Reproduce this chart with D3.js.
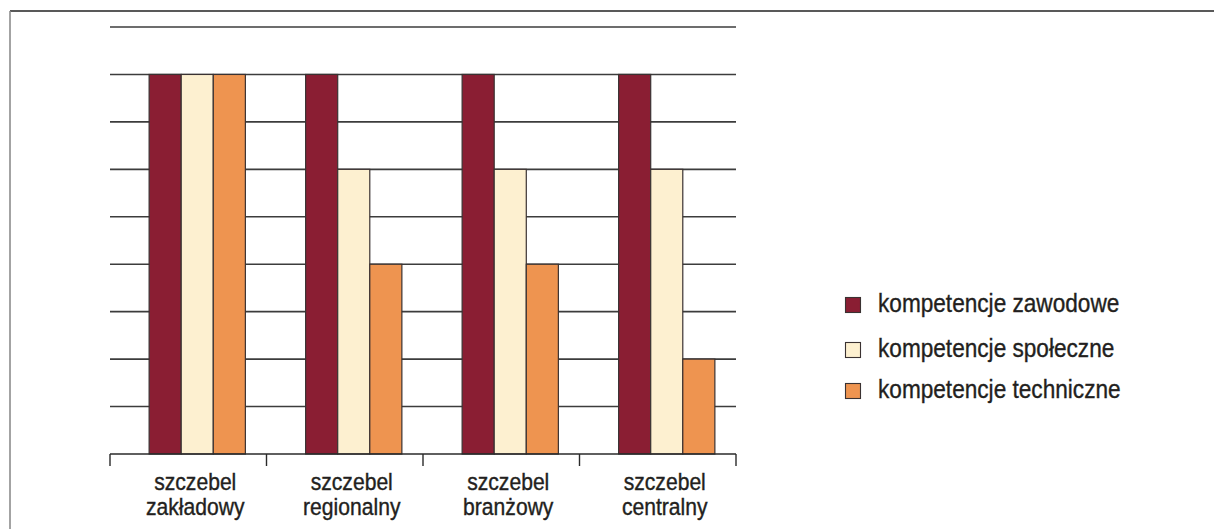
<!DOCTYPE html>
<html>
<head>
<meta charset="utf-8">
<script src="https://cdn.jsdelivr.net/npm/d3@7"></script>
<style>
  html, body { margin: 0; padding: 0; background: #fff; }
  svg { display: block; }
  text { font-family: "Liberation Sans", Arial, sans-serif; fill: #231f20; stroke: #231f20; stroke-width: 0.35px; }
</style>
</head>
<body>
<svg id="chart" width="1214" height="529"></svg>
<script>
// Categories (two-line labels) and series
const categories = ["szczebel zakładowy", "szczebel regionalny", "szczebel branżowy", "szczebel centralny"];
const categoryLines = [["szczebel", "zakładowy"], ["szczebel", "regionalny"], ["szczebel", "branżowy"], ["szczebel", "centralny"]];
const seriesNames = ["kompetencje zawodowe", "kompetencje społeczne", "kompetencje techniczne"];
const zawodowe = [4, 4, 4, 4];
const spoleczne = [4, 3, 3, 3];
const techniczne = [4, 2, 2, 1];
const gridTicks = [0.5, 1, 1.5, 2, 2.5, 3, 3.5, 4, 4.5];
const colors = ["#8a1e33", "#fdf0d0", "#ee9450"];

const seriesValues = [zawodowe, spoleczne, techniczne];

const svg = d3.select("#chart");
const W = 1214, H = 529;

// Frame: top rule and left rule
svg.append("line").attr("x1", 10).attr("x2", W).attr("y1", 11).attr("y2", 11)
  .attr("stroke", "#222").attr("stroke-width", 1.6);
svg.append("line").attr("x1", 10).attr("x2", 10).attr("y1", 11).attr("y2", H)
  .attr("stroke", "#8c8c8c").attr("stroke-width", 1.6);

const plot = { left: 110, right: 736, top: 27, bottom: 454 };

const x = d3.scaleBand().domain(categories).range([plot.left, plot.right]).padding(0);
const x1 = d3.scaleBand().domain(seriesNames)
  .range([x.bandwidth() * 0.25, x.bandwidth() * 0.865]).padding(0);
const y = d3.scaleLinear().domain([0, 4.5]).range([plot.bottom, plot.top]);

// Horizontal gridlines
svg.append("g").selectAll("line").data(gridTicks).join("line")
  .attr("x1", plot.left).attr("x2", plot.right)
  .attr("y1", d => y(d)).attr("y2", d => y(d))
  .attr("stroke", "#3c3c3c").attr("stroke-width", 1.6);

// Bars
const groups = svg.append("g").selectAll("g").data(categories).join("g")
  .attr("transform", d => `translate(${x(d)},0)`);
groups.selectAll("rect")
  .data((c, i) => seriesNames.map((s, j) => ({ s, j, v: seriesValues[j][i] })))
  .join("rect")
  .attr("x", d => x1(d.s))
  .attr("width", x1.bandwidth())
  .attr("y", d => y(d.v))
  .attr("height", d => y(0) - y(d.v))
  .attr("fill", d => colors[d.j])
  .attr("stroke", "#3a3232").attr("stroke-width", 1.2);

// Category axis
const xAxis = svg.append("g").attr("transform", `translate(0,${plot.bottom})`);
xAxis.append("line").attr("x1", plot.left).attr("x2", plot.right)
  .attr("stroke", "#2a2a2a").attr("stroke-width", 1.6);
const tickPos = categories.map(c => x(c)).concat([x(categories[categories.length - 1]) + x.bandwidth()]);
xAxis.selectAll("line.tick").data(tickPos).join("line").attr("class", "tick")
  .attr("x1", d => d).attr("x2", d => d).attr("y1", 0).attr("y2", 12)
  .attr("stroke", "#2a2a2a").attr("stroke-width", 1.4);

// Condensed look: horizontally compressed type, tight leading
const groupCenter = (x1.range()[0] + x1.range()[1]) / 2;
const catLabels = xAxis.selectAll("g.cat").data(categories).join("g").attr("class", "cat")
  .attr("transform", d => `translate(${x(d) + groupCenter - 2},0)`);
catLabels.each(function (d, i) {
  const g = d3.select(this);
  categoryLines[i].forEach((ln, k) => {
    g.append("text")
      .attr("text-anchor", "middle")
      .attr("transform", `translate(0,${36 + k * 25}) scale(0.96,1.12)`)
      .style("font-size", "22px")
      .text(ln);
  });
});

// Legend
const legendY = [312, 357, 398];
const legend = svg.append("g").selectAll("g").data(seriesNames).join("g")
  .attr("transform", (d, i) => `translate(845,${legendY[i]})`);
legend.append("rect").attr("x", 0.5).attr("y", -14.5).attr("width", 15).attr("height", 15)
  .attr("fill", (d, i) => colors[i]).attr("stroke", "#3a3232").attr("stroke-width", 1.1);
legend.append("text")
  .attr("transform", "translate(33,0) scale(0.905,1)")
  .style("font-size", "25px")
  .text(d => d);
</script>
</body>
</html>
